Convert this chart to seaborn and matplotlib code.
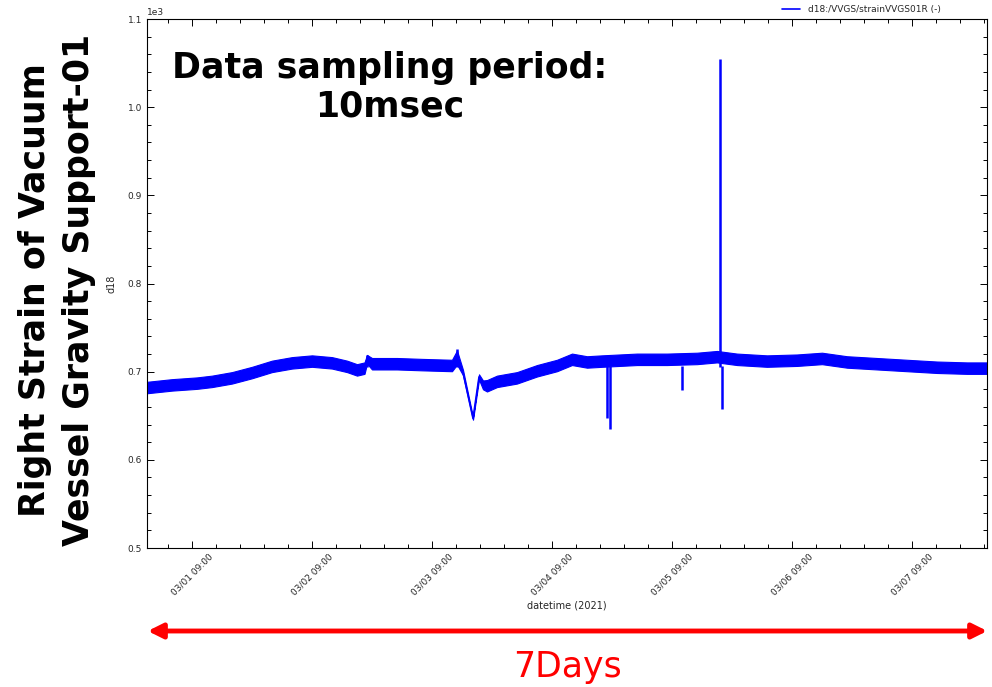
import numpy as np
import pandas as pd
import matplotlib
matplotlib.use("Agg")
import matplotlib.pyplot as plt
import matplotlib.dates as mdates
from matplotlib.ticker import FixedLocator, MultipleLocator, ScalarFormatter
import seaborn as sns

# ---------------- data ----------------
start = pd.Timestamp("2021-03-01 00:00")
hours = [0, 5, 10, 13, 17, 21, 25, 29, 33, 37, 40, 42, 43.5, 44, 45, 50, 55, 61,
         62, 63.2, 65.2, 66.4, 67.2, 68, 70, 74, 78, 82, 85, 88, 91, 98, 104, 110, 114,
         118, 124, 130, 135, 140, 146, 152, 158, 164, 168]
center = [682, 685, 687, 689, 693, 699, 706, 710, 712, 710, 706, 702, 704, 714, 709, 709, 708, 707,
          716, 699, 647, 694, 685, 684, 689, 693, 701, 707, 714, 711, 712, 714, 714, 715, 717,
          714, 712, 713, 715, 711, 709, 707, 705, 704, 704]
halfwidth = [6.5, 6.5, 6.5, 6.5, 6.5, 6.5, 6.5, 6.5, 6.5, 6.5, 6.5, 6.5, 6.5, 5, 6.5, 6.5, 6.5, 6.5,
             8, 3, 1.5, 3, 5, 6.5, 6.5, 6.5, 6.5, 6.5, 6.5, 6.5, 6.5, 6.5, 6.5, 6.5, 6.5,
             6.5, 6.5, 6.5, 6.5, 6.5, 6.5, 6.5, 6.5, 6.5, 6.5]

# short spikes (time in hours, low value, high value)
spike_hours = [92.0, 92.6, 107.0, 114.6, 115.0, 43.9, 61.9]
spike_low = [648, 635, 679, 705, 658, 705, 705]
spike_high = [706, 706, 706, 1055, 706, 719, 726]

legend_label = "d18:/VVGS/strainVVGS01R (-)"
xtick_labels_days = ["03/01", "03/02", "03/03", "03/04", "03/05", "03/06", "03/07"]

# ---------------- build ----------------
times = [start + pd.Timedelta(hours=h) for h in hours]
df = pd.DataFrame({"datetime": times, "d18": center})
lower = [c - w for c, w in zip(center, halfwidth)]
upper = [c + w for c, w in zip(center, halfwidth)]
spike_times = [start + pd.Timedelta(hours=h) for h in spike_hours]

sns.set_theme(style="ticks")
plt.rcParams["font.family"] = ["DejaVu Sans"]

fig = plt.figure(figsize=(9.92, 6.87), dpi=100)
ax = fig.add_axes([147 / 992, 1 - 548 / 687, (987 - 147) / 992, (548 - 19) / 687])

blue = "#0000ff"
ax.fill_between(df["datetime"], lower, upper, color=blue, linewidth=0.8, edgecolor=blue)
sns.lineplot(data=df, x="datetime", y="d18", ax=ax, color=blue, linewidth=1.2,
             label=legend_label)
ax.vlines(spike_times, spike_low, spike_high, color=blue, linewidth=1.8)

# axes limits
ax.set_xlim(start, start + pd.Timedelta(days=7))
ax.set_ylim(500, 1100)

# x ticks
major_ticks = [mdates.date2num(start + pd.Timedelta(days=d, hours=9)) for d in range(7)]
ax.xaxis.set_major_locator(FixedLocator(major_ticks))
minor_ticks = [mdates.date2num(start + pd.Timedelta(hours=9 + 4.8 * k)) for k in range(-1, 35)]
ax.xaxis.set_minor_locator(FixedLocator(minor_ticks))
ax.set_xticklabels([d + " 09:00" for d in xtick_labels_days], rotation=45,
                   ha="center", fontsize=6.5)

# y ticks
ax.yaxis.set_major_locator(MultipleLocator(100))
ax.yaxis.set_minor_locator(MultipleLocator(20))
fmt = ScalarFormatter(useMathText=False)
fmt.set_powerlimits((0, 0))
ax.yaxis.set_major_formatter(fmt)
ax.yaxis.get_offset_text().set_fontsize(6.5)
ax.tick_params(axis="y", labelsize=6.5)

ax.tick_params(which="both", direction="in", top=True, right=True, width=0.7, color="black")
ax.tick_params(which="major", length=5)
ax.tick_params(which="minor", length=3)
ax.tick_params(axis="x", pad=3)
for s in ax.spines.values():
    s.set_linewidth(0.8)
    s.set_color("black")

ax.set_xlabel("datetime (2021)", fontsize=7, labelpad=2)
ax.set_ylabel("d18", fontsize=7, labelpad=8)
ax.grid(False)

leg = ax.legend(loc="lower right", bbox_to_anchor=(0.95, 1.0), frameon=False, fontsize=6.5,
                handlelength=2, borderaxespad=0.1)

# annotations
fig.text(390 / 992, 1 - 87 / 687, "Data sampling period:\n10msec", ha="center", va="center",
         fontsize=25, fontweight="bold", color="black", linespacing=1.17)
fig.text(57 / 992, 1 - 290 / 687, "Right Strain of Vacuum\nVessel Gravity Support-01",
         ha="center", va="center", rotation=90, fontsize=25, fontweight="bold",
         color="black", linespacing=1.4)

ax.annotate("", xy=(990 / 992, 1 - 631 / 687), xytext=(145 / 992, 1 - 631 / 687),
            xycoords="figure fraction", textcoords="figure fraction",
            arrowprops=dict(arrowstyle="<|-|>", color="red", lw=3.5, mutation_scale=22))
fig.text(567 / 992, 1 - 667 / 687, "7Days", ha="center", va="center", fontsize=25,
         color="red")

fig.savefig("out.png", dpi=100)
